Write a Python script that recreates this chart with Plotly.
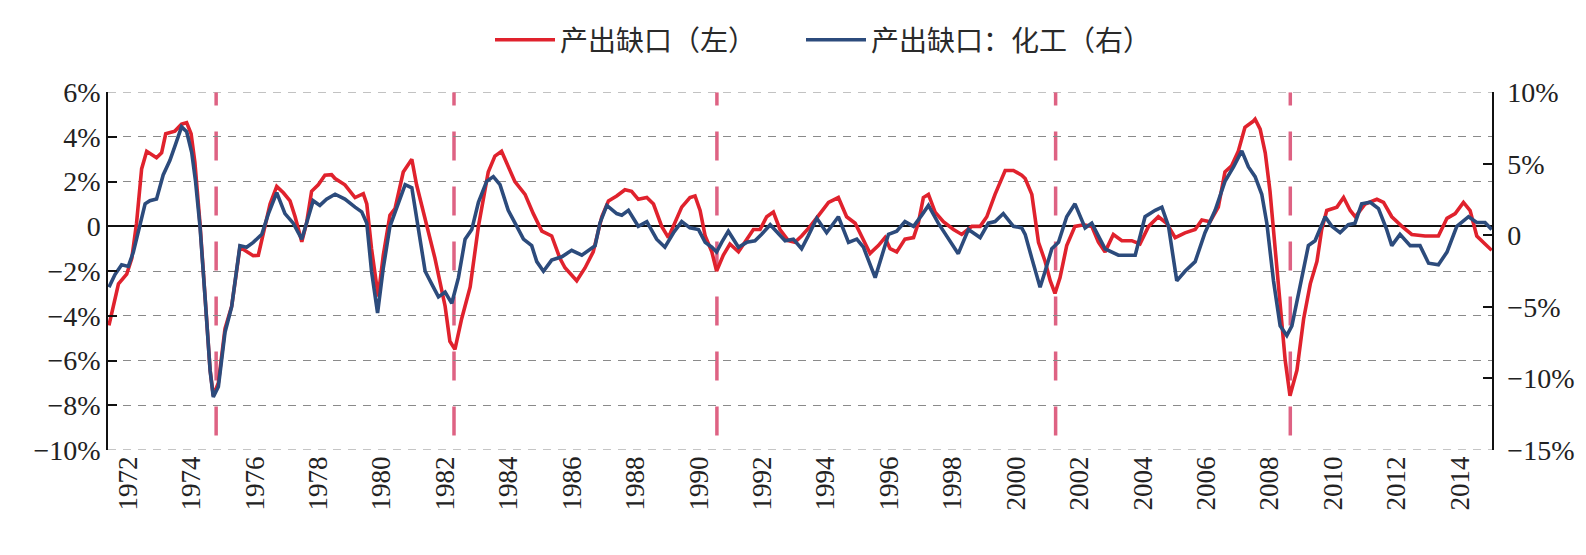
import plotly.graph_objects as go

# ---------------- data ----------------
gap_years = [1971.40, 1971.49, 1971.70, 1971.96, 1972.12, 1972.27, 1972.43, 1972.59, 1972.90, 1973.06,
             1973.19, 1973.48, 1973.69, 1973.85, 1973.99, 1974.11, 1974.27, 1974.43, 1974.59, 1974.69,
             1974.85, 1975.06, 1975.27, 1975.53, 1975.74, 1975.95, 1976.11, 1976.27, 1976.48, 1976.69,
             1976.90, 1977.11, 1977.27, 1977.48, 1977.63, 1977.79, 1978.00, 1978.21, 1978.42, 1978.53,
             1978.84, 1979.16, 1979.42, 1979.53, 1979.68, 1979.89, 1980.05, 1980.26, 1980.42, 1980.68,
             1980.95, 1981.10, 1981.37, 1981.68, 1982.00, 1982.15, 1982.31, 1982.52, 1982.79, 1983.05,
             1983.36, 1983.57, 1983.78, 1984.20, 1984.52, 1984.78, 1985.05, 1985.36, 1985.62, 1985.78,
             1986.15, 1986.41, 1986.67, 1986.94, 1987.15, 1987.41, 1987.67, 1987.88, 1988.09, 1988.36,
             1988.57, 1988.83, 1989.04, 1989.25, 1989.46, 1989.72, 1989.88, 1990.04, 1990.20, 1990.41,
             1990.56, 1990.77, 1990.98, 1991.25, 1991.51, 1991.72, 1991.93, 1992.14, 1992.35, 1992.56,
             1992.82, 1993.03, 1993.24, 1993.51, 1993.82, 1994.09, 1994.40, 1994.66, 1994.93, 1995.19,
             1995.40, 1995.66, 1995.87, 1996.03, 1996.24, 1996.50, 1996.77, 1996.92, 1997.08, 1997.24,
             1997.45, 1997.71, 1998.03, 1998.29, 1998.61, 1998.87, 1999.08, 1999.34, 1999.66, 1999.92,
             2000.18, 2000.29, 2000.50, 2000.71, 2000.92, 2001.08, 2001.23, 2001.39, 2001.60, 2001.86,
             2002.13, 2002.39, 2002.60, 2002.81, 2003.07, 2003.34, 2003.65, 2003.91, 2004.18, 2004.49,
             2004.75, 2005.02, 2005.33, 2005.65, 2005.86, 2006.12, 2006.38, 2006.59, 2006.80, 2007.01,
             2007.22, 2007.49, 2007.54, 2007.70, 2007.86, 2008.01, 2008.17, 2008.33, 2008.49, 2008.64,
             2008.86, 2009.07, 2009.28, 2009.49, 2009.64, 2009.80, 2010.12, 2010.33, 2010.54, 2010.70,
             2011.01, 2011.38, 2011.59, 2011.85, 2012.17, 2012.48, 2012.90, 2013.32, 2013.59, 2013.85,
             2014.11, 2014.32, 2014.53, 2014.79, 2015.00]
gap_values = [-4.43, -3.86, -2.57, -2.14, -1.43, 0.14, 2.57, 3.36, 3.07, 3.29,
              4.14, 4.26, 4.57, 4.64, 4.14, 2.86, 0.14, -3.14, -6.43, -7.57,
              -7.00, -4.57, -3.57, -0.93, -1.14, -1.31, -1.29, -0.29, 1.00, 1.79,
              1.50, 1.14, 0.43, -0.69, 0.14, 1.57, 1.86, 2.29, 2.31, 2.14,
              1.86, 1.29, 1.46, 1.00, -1.00, -3.14, -1.29, 0.50, 0.79, 2.43,
              3.00, 1.86, 0.29, -1.43, -3.57, -5.14, -5.50, -4.14, -2.71, 0.00,
              2.43, 3.14, 3.36, 2.00, 1.43, 0.57, -0.21, -0.43, -1.43, -1.85,
              -2.43, -1.86, -1.14, 0.43, 1.14, 1.36, 1.64, 1.57, 1.21, 1.29,
              1.00, 0.00, -0.50, 0.14, 0.86, 1.29, 1.36, 0.71, -0.43, -1.14,
              -2.00, -1.29, -0.79, -1.14, -0.57, -0.14, -0.14, 0.43, 0.64, -0.14,
              -0.64, -0.71, -0.43, 0.00, 0.57, 1.07, 1.29, 0.43, 0.14, -0.64,
              -1.21, -0.86, -0.50, -1.00, -1.14, -0.57, -0.50, 0.14, 1.29, 1.43,
              0.64, 0.21, -0.14, -0.36, 0.00, 0.00, 0.43, 1.43, 2.50, 2.50,
              2.29, 2.14, 1.43, -0.71, -1.57, -2.43, -3.00, -2.29, -0.86, 0.00,
              0.07, 0.00, -0.71, -1.14, -0.36, -0.64, -0.64, -0.79, 0.00, 0.43,
              0.14, -0.50, -0.29, -0.14, 0.29, 0.21, 0.86, 2.43, 2.71, 3.36,
              4.43, 4.71, 4.79, 4.35, 3.29, 1.57, -1.00, -3.71, -6.00, -7.57,
              -6.43, -4.14, -2.57, -1.57, -0.14, 0.71, 0.86, 1.29, 0.71, 0.43,
              1.00, 1.21, 1.07, 0.43, 0.00, -0.36, -0.43, -0.43, 0.36, 0.57,
              1.07, 0.71, -0.43, -0.79, -1.07]

chem_years = [1971.40, 1971.59, 1971.80, 1972.01, 1972.17, 1972.38, 1972.54, 1972.69, 1972.90, 1973.11,
              1973.32, 1973.48, 1973.69, 1973.85, 1974.01, 1974.13, 1974.27, 1974.43, 1974.59, 1974.69,
              1974.85, 1975.06, 1975.27, 1975.53, 1975.74, 1975.95, 1976.22, 1976.43, 1976.69, 1976.95,
              1977.21, 1977.48, 1977.63, 1977.84, 1978.05, 1978.26, 1978.53, 1978.84, 1979.16, 1979.37,
              1979.53, 1979.68, 1979.87, 1980.05, 1980.26, 1980.53, 1980.74, 1980.95, 1981.16, 1981.37,
              1981.58, 1981.79, 1982.00, 1982.21, 1982.42, 1982.63, 1982.84, 1983.05, 1983.31, 1983.52,
              1983.73, 1983.99, 1984.26, 1984.47, 1984.73, 1984.89, 1985.10, 1985.36, 1985.68, 1985.99,
              1986.31, 1986.52, 1986.73, 1986.88, 1987.10, 1987.41, 1987.57, 1987.78, 1988.09, 1988.36,
              1988.67, 1988.93, 1989.20, 1989.46, 1989.72, 1989.99, 1990.20, 1990.41, 1990.56, 1990.72,
              1990.93, 1991.25, 1991.51, 1991.77, 1991.98, 1992.25, 1992.51, 1992.72, 1992.98, 1993.24,
              1993.45, 1993.72, 1994.03, 1994.40, 1994.72, 1994.98, 1995.19, 1995.56, 1995.98, 1996.24,
              1996.50, 1996.77, 1997.03, 1997.24, 1997.55, 1997.87, 1998.18, 1998.50, 1998.87, 1999.13,
              1999.34, 1999.60, 1999.92, 2000.18, 2000.29, 2000.50, 2000.76, 2000.92, 2001.13, 2001.34,
              2001.60, 2001.86, 2002.18, 2002.39, 2002.81, 2003.23, 2003.76, 2004.07, 2004.39, 2004.60,
              2004.81, 2005.07, 2005.33, 2005.65, 2005.96, 2006.28, 2006.59, 2006.86, 2007.12, 2007.33,
              2007.54, 2007.75, 2007.91, 2008.12, 2008.33, 2008.54, 2008.70, 2008.91, 2009.22, 2009.43,
              2009.75, 2009.96, 2010.22, 2010.48, 2010.69, 2010.90, 2011.17, 2011.43, 2011.69, 2011.85,
              2012.11, 2012.43, 2012.74, 2013.01, 2013.32, 2013.59, 2013.90, 2014.27, 2014.53, 2014.79,
              2015.00]
chem_values = [-3.63, -2.74, -2.06, -2.17, -1.17, 0.85, 2.20, 2.42, 2.53, 4.22,
               5.22, 6.23, 7.58, 7.24, 5.78, 3.77, 0.63, -4.30, -9.46, -11.30,
               -10.58, -6.77, -4.98, -0.72, -0.83, -0.49, 0.07, 1.52, 2.98, 1.52,
               0.85, -0.27, 0.85, 2.42, 2.09, 2.53, 2.87, 2.53, 1.97, 1.64,
               0.85, -2.51, -5.43, -2.29, 0.63, 2.20, 3.54, 3.32, 0.40, -2.51,
               -3.41, -4.30, -3.97, -4.75, -2.96, -0.27, 0.40, 2.31, 3.77, 4.10,
               3.54, 1.75, 0.63, -0.27, -0.72, -1.84, -2.51, -1.73, -1.50, -1.05,
               -1.39, -1.05, -0.72, 0.85, 2.09, 1.52, 1.41, 1.75, 0.63, 0.96,
               -0.27, -0.83, 0.18, 0.96, 0.52, 0.40, -0.49, -0.83, -1.17, -0.49,
               0.29, -0.83, -0.49, -0.38, 0.07, 0.74, 0.07, -0.38, -0.27, -0.94,
               -0.04, 1.19, 0.18, 1.30, -0.49, -0.27, -0.83, -2.96, 0.07, 0.29,
               0.96, 0.63, 1.41, 2.09, 0.85, -0.27, -1.28, 0.40, -0.16, 0.85,
               0.96, 1.52, 0.63, 0.52, 0.07, -1.61, -3.63, -2.51, -0.94, -0.49,
               1.30, 2.20, 0.52, 0.85, -0.94, -1.39, -1.39, 1.30, 1.75, 1.97,
               0.63, -3.18, -2.51, -1.84, 0.18, 1.75, 3.77, 4.78, 5.90, 4.78,
               4.10, 2.87, 0.85, -3.18, -6.32, -7.00, -6.32, -4.08, -0.72, -0.38,
               1.30, 0.63, 0.18, 0.74, 0.85, 2.20, 2.31, 1.86, 0.40, -0.72,
               0.07, -0.72, -0.72, -1.95, -2.06, -1.17, 0.63, 1.30, 0.90, 0.90,
               0.40]

recession_marks = [1974.78, 1982.28, 1990.57, 2001.25, 2008.65]

year_ticks = [1972, 1974, 1976, 1978, 1980, 1982, 1984, 1986, 1988, 1990, 1992,
              1994, 1996, 1998, 2000, 2002, 2004, 2006, 2008, 2010, 2012, 2014]
left_ticks = [-10, -8, -6, -4, -2, 0, 2, 4, 6]
left_labels = ["\u221210%", "\u22128%", "\u22126%", "\u22124%", "\u22122%", "0", "2%", "4%", "6%"]
right_ticks = [-15, -10, -5, 0, 5, 10]
right_labels = ["\u221215%", "\u221210%", "\u22125%", "0", "5%", "10%"]

name_gap = "产出缺口（左）"
name_chem = "产出缺口：化工（右）"

# ---------------- figure ----------------
RED = "#E0222D"
BLUE = "#2C4B7C"
PINK = "#DE6283"
GRID = "#8a8a8a"
SERIF = "Liberation Serif, Times New Roman, serif"
CJK = "Noto Sans CJK SC"

fig = go.Figure()
fig.add_trace(go.Scatter(x=gap_years, y=gap_values, mode="lines", name=name_gap,
                         line=dict(color=RED, width=3.6), yaxis="y", legend="legend"))
fig.add_trace(go.Scatter(x=chem_years, y=chem_values, mode="lines", name=name_chem,
                         line=dict(color=BLUE, width=3.6), yaxis="y2", legend="legend2"))

for xm in recession_marks:
    fig.add_shape(type="line", xref="x", yref="y", x0=xm, x1=xm, y0=-9.35, y1=6,
                  line=dict(color=PINK, width=3.5, dash="29px,26px"), layer="below")

# dashed gridlines at the range ends (top and bottom of the plot)
for yv in (left_ticks[0], left_ticks[-1]):
    fig.add_shape(type="line", xref="paper", yref="y", x0=0, x1=1, y0=yv, y1=yv,
                  line=dict(color=GRID, width=1, dash="8px,7px"), layer="below")

legend_common = dict(orientation="h", xanchor="left", xref="container",
                     y=1 - 40 / 555, yanchor="middle", yref="container",
                     font=dict(family=CJK, size=28, color="#2a2a2a"),
                     itemwidth=60, bgcolor="rgba(0,0,0,0)")

fig.update_layout(
    width=1586, height=555,
    margin=dict(l=108, r=94, t=79, b=105),
    paper_bgcolor="white", plot_bgcolor="white",
    showlegend=True,
    legend=dict(x=490 / 1586, **legend_common),
    legend2=dict(x=801 / 1586, **legend_common),
    xaxis=dict(range=[1971.37, 2015.01], tickvals=year_ticks,
               ticktext=[str(v) for v in year_ticks], tickangle=-90,
               showgrid=False, zeroline=False, showline=False, ticks="",
               tickfont=dict(family=SERIF, size=27, color="#222")),
    yaxis=dict(range=[-10, 6], tickvals=left_ticks, ticktext=left_labels,
               showgrid=True, gridcolor=GRID, gridwidth=1, griddash="8px,7px",
               zeroline=True, zerolinecolor="#111", zerolinewidth=1.5,
               showline=True, linecolor="#111", linewidth=1.5,
               ticks="inside", ticklen=9, tickwidth=1.5, tickcolor="#111",
               tickfont=dict(family=SERIF, size=28, color="#222")),
    yaxis2=dict(range=[-15, 10], tickvals=right_ticks, ticktext=right_labels,
                overlaying="y", side="right", anchor="x",
                showgrid=False, zeroline=False,
                showline=True, linecolor="#111", linewidth=1.5,
                ticks="inside", ticklen=9, tickwidth=1.5, tickcolor="#111",
                ticklabelstandoff=8,
                tickfont=dict(family=SERIF, size=28, color="#222")),
)

fig.write_html("out.html")
